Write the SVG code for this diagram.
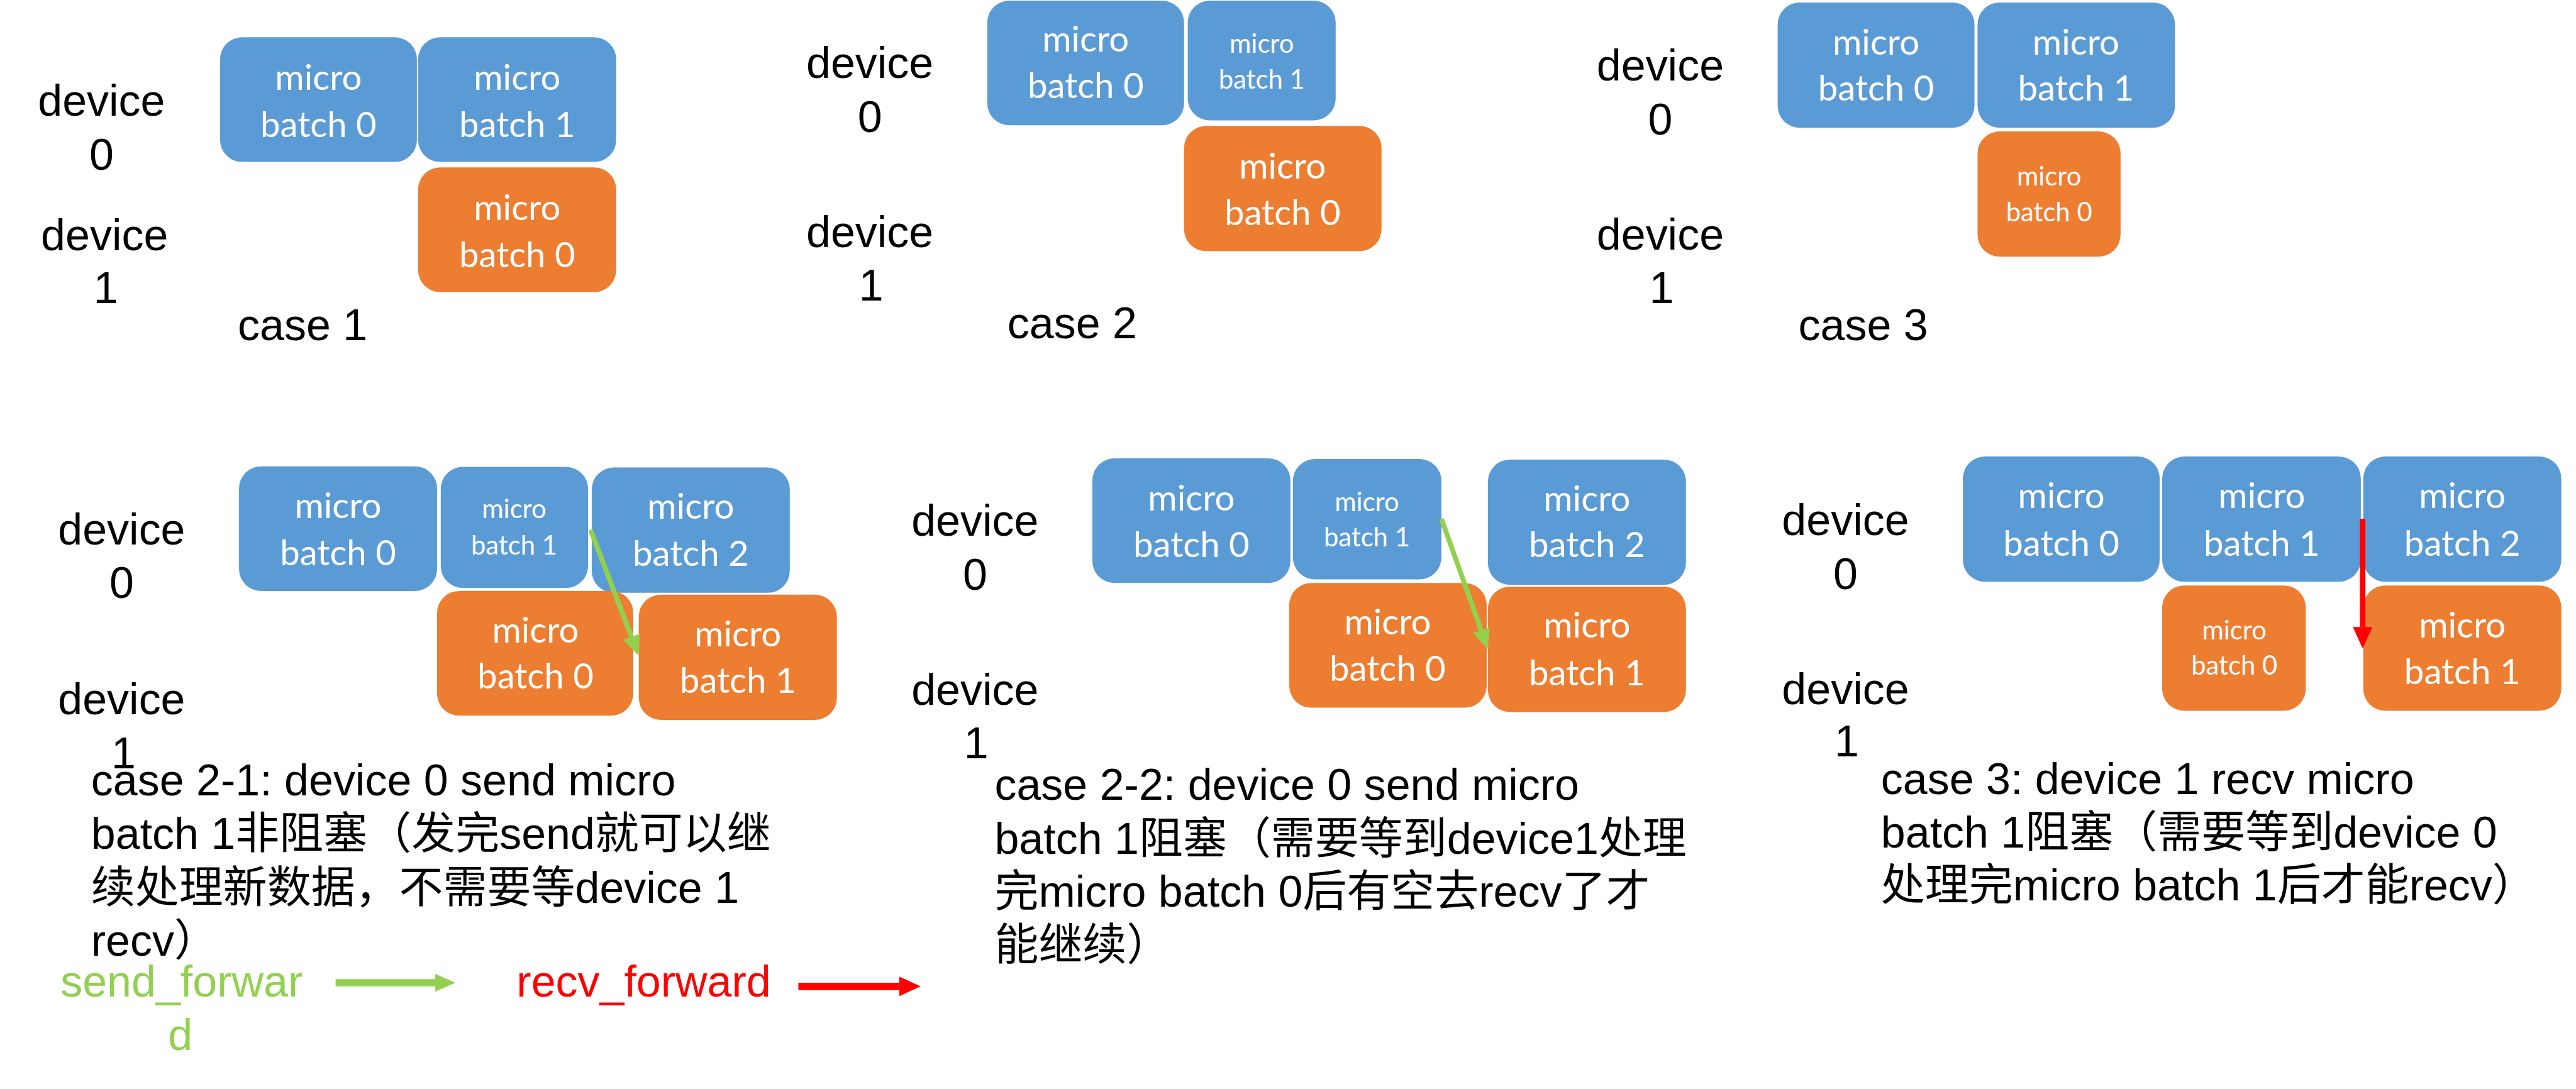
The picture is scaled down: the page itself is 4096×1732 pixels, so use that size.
<svg xmlns="http://www.w3.org/2000/svg" width="4096" height="1732" viewBox="0 0 4096 1732">
<style>
.b{fill:#5B9BD5}
.o{fill:#ED7D31}
.t{font-family:Lato,'Liberation Sans',sans-serif;font-size:58px;fill:#fff;text-anchor:middle}
.ts{font-size:43px}
.lbl{font-family:'Liberation Sans',Arial,sans-serif;font-size:72px;fill:#000;text-anchor:middle}
.cap{font-family:'Liberation Sans',Arial,'Noto Sans CJK SC',sans-serif;font-size:72px;fill:#000}
.g{stroke:#92D050;fill:none}
.r{stroke:#FF0000;fill:none}
</style>
<defs>
<marker id="hg" markerUnits="userSpaceOnUse" markerWidth="33" markerHeight="29" viewBox="0 0 33 29" refX="0" refY="14.5" orient="auto"><path d="M0,0 L33,14.5 L0,29 z" fill="#92D050"/></marker>
<marker id="hr" markerUnits="userSpaceOnUse" markerWidth="35" markerHeight="32" viewBox="0 0 35 32" refX="0" refY="16" orient="auto"><path d="M0,0 L35,16 L0,32 z" fill="#FF0000"/></marker>
</defs>
<rect width="4096" height="1732" fill="#fff"/>
<g transform="scale(0.972)">
<!-- case 1 -->
<g id="c1-dev0"><text class="lbl" x="166" y="189">device</text><text class="lbl" x="166" y="278">0</text></g>
<g id="c1-dev1"><text class="lbl" x="171" y="409">device</text><text class="lbl" x="173" y="496">1</text></g>
<g id="c1-title"><text class="lbl" x="389" y="557" style="text-anchor:start">case 1</text></g>
<g id="c1-d0-mb0"><rect class="b" x="360" y="61" width="322" height="204" rx="36"/><text class="t" x="521" y="147">micro</text><text class="t" x="521" y="224">batch 0</text></g>
<g id="c1-d0-mb1"><rect class="b" x="684" y="61" width="324" height="204" rx="36"/><text class="t" x="846" y="147">micro</text><text class="t" x="846" y="224">batch 1</text></g>
<g id="c1-d1-mb0"><rect class="o" x="684" y="274" width="324" height="204" rx="36"/><text class="t" x="846" y="360">micro</text><text class="t" x="846" y="437">batch 0</text></g>

<!-- case 2 -->
<g id="c2-dev0"><text class="lbl" x="1423" y="128">device</text><text class="lbl" x="1423" y="216">0</text></g>
<g id="c2-dev1"><text class="lbl" x="1423" y="404">device</text><text class="lbl" x="1425" y="492">1</text></g>
<g id="c2-title"><text class="lbl" x="1648" y="554" style="text-anchor:start">case 2</text></g>
<g id="c2-d0-mb0"><rect class="b" x="1615" y="1" width="322" height="204" rx="36"/><text class="t" x="1776" y="84">micro</text><text class="t" x="1776" y="161">batch 0</text></g>
<g id="c2-d0-mb1"><rect class="b" x="1943" y="1" width="242" height="196" rx="36"/><text class="t ts" x="2064" y="86">micro</text><text class="t ts" x="2064" y="145">batch 1</text></g>
<g id="c2-d1-mb0"><rect class="o" x="1937" y="206" width="323" height="205" rx="36"/><text class="t" x="2098" y="292">micro</text><text class="t" x="2098" y="368">batch 0</text></g>

<!-- case 3 -->
<g id="c3-dev0"><text class="lbl" x="2716" y="132">device</text><text class="lbl" x="2716" y="220">0</text></g>
<g id="c3-dev1"><text class="lbl" x="2716" y="408">device</text><text class="lbl" x="2718" y="496">1</text></g>
<g id="c3-title"><text class="lbl" x="2942" y="557" style="text-anchor:start">case 3</text></g>
<g id="c3-d0-mb0"><rect class="b" x="2908" y="4" width="322" height="205" rx="36"/><text class="t" x="3069" y="89">micro</text><text class="t" x="3069" y="165">batch 0</text></g>
<g id="c3-d0-mb1"><rect class="b" x="3235" y="4" width="323" height="205" rx="36"/><text class="t" x="3396" y="89">micro</text><text class="t" x="3396" y="165">batch 1</text></g>
<g id="c3-d1-mb0"><rect class="o" x="3235" y="215" width="234" height="205" rx="36"/><text class="t ts" x="3352" y="304">micro</text><text class="t ts" x="3352" y="362">batch 0</text></g>

<!-- case 2-1 -->
<g id="c21-dev0"><text class="lbl" x="199" y="891">device</text><text class="lbl" x="199" y="978">0</text></g>
<g id="c21-dev1"><text class="lbl" x="199" y="1169">device</text><text class="lbl" x="202" y="1257">1</text></g>
<g id="c21-d0-mb0"><rect class="b" x="391" y="763" width="324" height="204" rx="36"/><text class="t" x="553" y="848">micro</text><text class="t" x="553" y="925">batch 0</text></g>
<g id="c21-d0-mb1"><rect class="b" x="721" y="764" width="241" height="198" rx="36"/><text class="t ts" x="841" y="848">micro</text><text class="t ts" x="841" y="907">batch 1</text></g>
<g id="c21-d0-mb2"><rect class="b" x="968" y="765" width="324" height="205" rx="36"/><text class="t" x="1130" y="849">micro</text><text class="t" x="1130" y="926">batch 2</text></g>
<g id="c21-d1-mb0"><rect class="o" x="715" y="967" width="321" height="204" rx="36"/><text class="t" x="876" y="1051">micro</text><text class="t" x="876" y="1127">batch 0</text></g>
<g id="c21-d1-mb1"><rect class="o" x="1045" y="973" width="324" height="205" rx="36"/><text class="t" x="1207" y="1058">micro</text><text class="t" x="1207" y="1134">batch 1</text></g>
<g id="c21-caption"><text class="cap" x="149" y="1301">case 2-1: device 0 send micro</text><text class="cap" x="149" y="1389">batch 1非阻塞（发完send就可以继</text><text class="cap" x="149" y="1477">续处理新数据，不需要等device 1</text><text class="cap" x="149" y="1564">recv）</text></g>

<!-- case 2-2 -->
<g id="c22-dev0"><text class="lbl" x="1595" y="877">device</text><text class="lbl" x="1595" y="965">0</text></g>
<g id="c22-dev1"><text class="lbl" x="1595" y="1153">device</text><text class="lbl" x="1597" y="1241">1</text></g>
<g id="c22-d0-mb0"><rect class="b" x="1787" y="750" width="324" height="204" rx="36"/><text class="t" x="1949" y="835">micro</text><text class="t" x="1949" y="912">batch 0</text></g>
<g id="c22-d0-mb1"><rect class="b" x="2115" y="751" width="243" height="197" rx="36"/><text class="t ts" x="2236" y="836">micro</text><text class="t ts" x="2236" y="894">batch 1</text></g>
<g id="c22-d0-mb2"><rect class="b" x="2434" y="752" width="324" height="205" rx="36"/><text class="t" x="2596" y="836">micro</text><text class="t" x="2596" y="912">batch 2</text></g>
<g id="c22-d1-mb0"><rect class="o" x="2109" y="954" width="323" height="204" rx="36"/><text class="t" x="2270" y="1038">micro</text><text class="t" x="2270" y="1114">batch 0</text></g>
<g id="c22-d1-mb1"><rect class="o" x="2434" y="960" width="324" height="205" rx="36"/><text class="t" x="2596" y="1043">micro</text><text class="t" x="2596" y="1121">batch 1</text></g>
<g id="c22-caption"><text class="cap" x="1627" y="1309">case 2-2: device 0 send micro</text><text class="cap" x="1627" y="1397">batch 1阻塞（需要等到device1处理</text><text class="cap" x="1627" y="1484">完micro batch 0后有空去recv了才</text><text class="cap" x="1627" y="1571">能继续）</text></g>

<!-- case 3 (bottom) -->
<g id="c3b-dev0"><text class="lbl" x="3019" y="876">device</text><text class="lbl" x="3019" y="964">0</text></g>
<g id="c3b-dev1"><text class="lbl" x="3019" y="1152">device</text><text class="lbl" x="3021" y="1238">1</text></g>
<g id="c3b-d0-mb0"><rect class="b" x="3211" y="747" width="322" height="205" rx="36"/><text class="t" x="3372" y="831">micro</text><text class="t" x="3372" y="909">batch 0</text></g>
<g id="c3b-d0-mb1"><rect class="b" x="3537" y="747" width="325" height="205" rx="36"/><text class="t" x="3700" y="831">micro</text><text class="t" x="3700" y="909">batch 1</text></g>
<g id="c3b-d0-mb2"><rect class="b" x="3866" y="747" width="324" height="205" rx="36"/><text class="t" x="4028" y="831">micro</text><text class="t" x="4028" y="909">batch 2</text></g>
<g id="c3b-d1-mb0"><rect class="o" x="3537" y="958" width="235" height="205" rx="36"/><text class="t ts" x="3655" y="1046">micro</text><text class="t ts" x="3655" y="1104">batch 0</text></g>
<g id="c3b-d1-mb1"><rect class="o" x="3866" y="958" width="324" height="205" rx="36"/><text class="t" x="4028" y="1043">micro</text><text class="t" x="4028" y="1119">batch 1</text></g>
<g id="c3b-caption"><text class="cap" x="3077" y="1299">case 3: device 1 recv micro</text><text class="cap" x="3077" y="1387">batch 1阻塞（需要等到device 0</text><text class="cap" x="3077" y="1473">处理完micro batch 1后才能recv）</text></g>

<!-- legend -->
<g id="legend-send"><text class="lbl" x="297" y="1631" style="fill:#92D050">send_forwar</text><text class="lbl" x="295" y="1718" style="fill:#92D050">d</text></g>
<g id="legend-recv"><text class="lbl" x="845" y="1631" style="fill:#FF0000;text-anchor:start">recv_forward</text></g>

<!-- connectors -->
<g id="connectors">
<line class="g" x1="966" y1="867" x2="1033" y2="1042" stroke-width="8" marker-end="url(#hg)"/>
<line class="g" x1="2358" y1="849" x2="2423" y2="1031" stroke-width="8" marker-end="url(#hg)"/>
<line class="r" x1="3865" y1="849" x2="3865" y2="1026" stroke-width="9" marker-end="url(#hr)"/>
<line class="g" x1="549" y1="1608" x2="712" y2="1608" stroke-width="12" marker-end="url(#hg)"/>
<line class="r" x1="1306" y1="1614" x2="1471" y2="1614" stroke-width="12" marker-end="url(#hr)"/>
</g>
</g>
</svg>
